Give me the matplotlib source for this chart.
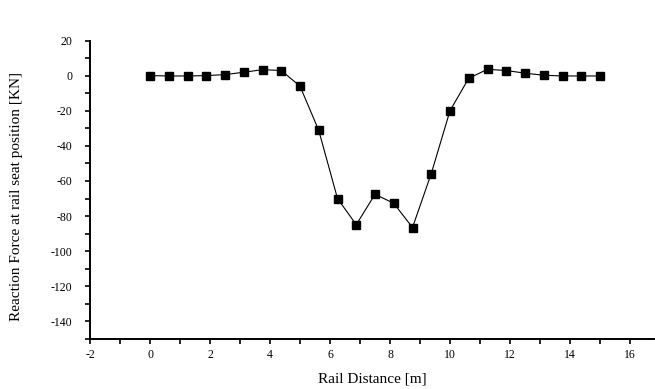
import matplotlib.pyplot as plt
from matplotlib.ticker import MultipleLocator

# rail seat positions (m) and reaction force values
distance = [0, 0.625, 1.25, 1.875, 2.5, 3.125, 3.75, 4.375, 5.0, 5.625,
            6.25, 6.875, 7.5, 8.125, 8.75, 9.375, 10.0, 10.625, 11.25,
            11.875, 12.5, 13.125, 13.75, 14.375, 15.0]
force = [0.0, -0.2, -0.2, 0.0, 0.6, 1.9, 3.4, 2.9, -6.0, -31.2,
         -70.0, -84.9, -67.6, -72.7, -86.5, -55.8, -20.0, -1.5, 3.6,
         2.9, 1.4, 0.2, -0.2, -0.2, -0.2]

x_label = 'Rail Distance [m]'
y_label = 'Reaction Force at rail seat position [KN]'

plt.rcParams['font.family'] = ['Liberation Serif', 'DejaVu Serif']
plt.rcParams['axes.unicode_minus'] = False

fig = plt.figure(figsize=(6.55, 3.89), dpi=100)
ax = fig.add_axes([90 / 655, 50 / 389, 564 / 655, 298.5 / 389])

ax.plot(distance, force, 's-', color='black', linewidth=0.8,
        markersize=5.5, markerfacecolor='black', markeredgecolor='black')

ax.set_xlim(-2, 16.8)
ax.set_ylim(-150, 20)
ax.xaxis.set_major_locator(MultipleLocator(2))
ax.xaxis.set_minor_locator(MultipleLocator(1))
ax.yaxis.set_major_locator(MultipleLocator(20))
ax.yaxis.set_minor_locator(MultipleLocator(10))

for side in ('top', 'right'):
    ax.spines[side].set_visible(False)
for side in ('left', 'bottom'):
    ax.spines[side].set_linewidth(1.4)

ax.tick_params(which='both', direction='out', width=1.2, length=3.5,
               labelsize=8.5, colors='black')
ax.tick_params(axis='x', pad=4)
ax.tick_params(axis='y', pad=9)

ax.set_xlabel(x_label, fontsize=11, labelpad=8)
fig.text(17 / 655, 1 - 321 / 389, y_label, rotation=90, fontsize=11,
         ha='center', va='bottom')

fig.savefig('out.png', dpi=100)
